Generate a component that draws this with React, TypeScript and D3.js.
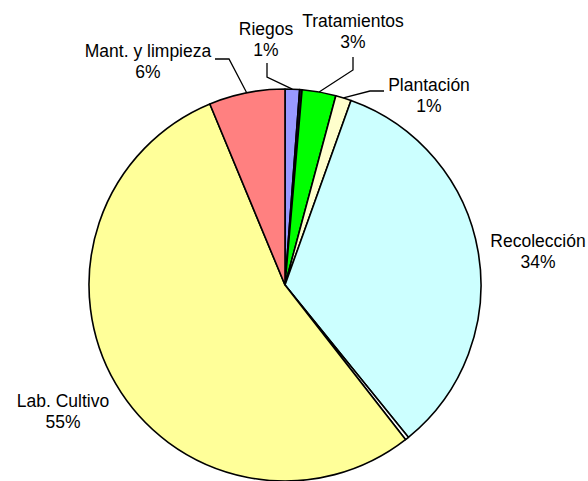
import React from "react";
import * as d3 from "d3";

// ---- data ----
const categories = ["Riegos", "", "Tratamientos", "Plantación", "Recolección", "", "Lab. Cultivo", "Mant. y limpieza"];
const values = [1.2, 0.2, 2.8, 1.3, 33.9, 0.3, 54.6, 6.3];
const percentLabels = ["1%", "", "3%", "1%", "34%", "", "55%", "6%"];
const colors = ["#9999FF", "#1a1a1a", "#00FF00", "#FFFFCC", "#CCFFFF", "#FFFFFF", "#FFFF99", "#FF8080"];

// ---- layout (label placement, kept separate from data) ----
const labelLayout: Record<string, { x: number; y: number; leader?: [number, number][] }> = {
  "Riegos": { x: 266, y: 35, leader: [[267, 77], [267, 63]] },
  "Tratamientos": { x: 353, y: 27, leader: [[353, 70], [353, 57]] },
  "Plantación": { x: 429, y: 91, leader: [[370, 91], [384, 91]] },
  "Recolección": { x: 538, y: 247 },
  "Lab. Cultivo": { x: 63, y: 407 },
  "Mant. y limpieza": { x: 148, y: 57, leader: [[229, 59], [215, 59]] },
};

const W = 588;
const H = 481;
const cx = 285;
const cy = 285;
const R = 196;
const LINE_H = 21;

export default function App() {
  const pie = d3.pie<number>().sort(null).value((d) => d)(values);
  const arc = d3.arc<d3.PieArcDatum<number>>().innerRadius(0).outerRadius(R);

  return (
    <div style={{ position: "absolute", left: 0, top: 0 }}>
      <svg width={W} height={H} style={{ display: "block" }}>
        <rect width={W} height={H} fill="#ffffff" />
        <g transform={`translate(${cx},${cy})`}>
          {pie.map((p, i) => (
            <path
              key={i}
              d={arc(p) || ""}
              fill={colors[i]}
              stroke="#000"
              strokeWidth={1.6}
              strokeLinejoin="round"
            />
          ))}
        </g>
        {pie.map((p, i) => {
          const name = categories[i];
          if (!name) return null;
          const lay = labelLayout[name];
          const mid = (p.startAngle + p.endAngle) / 2;
          const ex = cx + R * Math.sin(mid);
          const ey = cy - R * Math.cos(mid);
          const pts: [number, number][] = lay.leader ? [[ex, ey], ...lay.leader] : [];
          return (
            <g key={"l" + i}>
              {lay.leader && (
                <path
                  d={d3.line()(pts) || ""}
                  fill="none"
                  stroke="#000"
                  strokeWidth={1.3}
                />
              )}
              <text
                x={lay.x}
                y={lay.y}
                textAnchor="middle"
                fontFamily="Liberation Sans, Arial, sans-serif"
                fontSize={17.5}
                fill="#000"
              >
                {name}
              </text>
              <text
                x={lay.x}
                y={lay.y + LINE_H}
                textAnchor="middle"
                fontFamily="Liberation Sans, Arial, sans-serif"
                fontSize={17.5}
                fill="#000"
              >
                {percentLabels[i]}
              </text>
            </g>
          );
        })}
      </svg>
    </div>
  );
}
